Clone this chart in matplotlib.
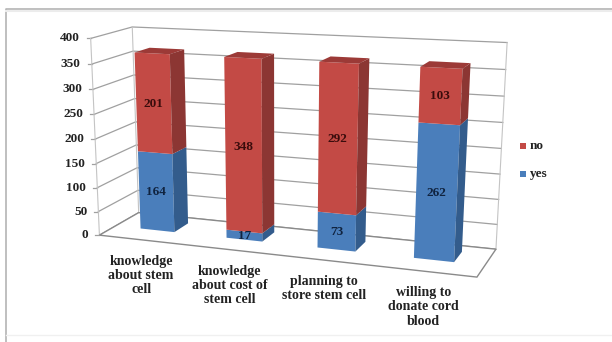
import numpy as np
import matplotlib
matplotlib.use('Agg')
from matplotlib import pyplot as plt
from matplotlib.patches import Polygon

categories = ["knowledge\nabout stem\ncell", "knowledge\nabout cost of\nstem cell",
              "planning to\nstore stem cell", "willing to\ndonate cord\nblood"]
yes_values = [164, 17, 73, 262]
no_values = [201, 348, 292, 103]
y_ticks = [0, 50, 100, 150, 200, 250, 300, 350, 400]

plt.rcParams['font.family'] = ['Liberation Serif', 'DejaVu Serif']
plt.rcParams['font.weight'] = 'bold'

# box corners (category, value, depth) and where they land on the figure
box = np.array([[0, 0, 0], [0, 400, 0], [0, 0, 1], [0, 400, 1],
                [4, 0, 0], [4, 0, 1], [4, 400, 1]], dtype=float)
screen = np.array([[100, 232], [90, 39], [138, 216], [133, 26],
                   [477, 280], [496, 246], [507, 43]], dtype=float)

# solve the camera matrix for the 3D box
rows = []
rhs = []
for (a, b, c), (sx, sy) in zip(box, screen):
    rows.append([a, b, c, 1, 0, 0, 0, 0, -sx*a, -sx*b, -sx*c])
    rhs.append(sx)
    rows.append([0, 0, 0, 0, a, b, c, 1, -sy*a, -sy*b, -sy*c])
    rhs.append(sy)
cam = np.linalg.lstsq(np.array(rows), np.array(rhs), rcond=None)[0]
cam = np.append(cam, 1).reshape(3, 4)


def proj(a, b, c):
    p = cam @ np.array([a, b, c, 1.0])
    return p[0]/p[2], p[1]/p[2]


fig = plt.figure(figsize=(6.12, 3.42), dpi=100)
ax = fig.add_axes([0, 0, 1, 1])
ax.set_xlim(0, 612)
ax.set_ylim(342, 0)
ax.axis('off')

# outer frame
ax.plot([612, 6, 6], [9, 9, 342], color='#b4b4b4', lw=1.2)
ax.plot([612, 6], [10.5, 10.5], color='#ececec', lw=1.5)
ax.plot([6, 612], [335, 335], color='#f0f0f0', lw=1)

# gridlines on the side wall and back wall
for v in y_ticks:
    pts = [proj(0, v, 0), proj(0, v, 1), proj(4, v, 1)]
    ax.plot([p[0] for p in pts], [p[1] for p in pts], color='#a0a0a0', lw=0.9, zorder=1)
    fx, fy = proj(0, v, 0)
    ax.plot([fx-4, fx], [fy, fy], color='#a0a0a0', lw=0.9, zorder=1)
    ax.text(fx-11, fy, str(v), ha='right', va='center', fontsize=9.5, color='#222222')

# wall edges and floor
for p, q in [((0, 0, 0), (0, 400, 0)), ((0, 0, 1), (0, 400, 1)), ((4, 0, 1), (4, 400, 1))]:
    a, b = proj(*p), proj(*q)
    ax.plot([a[0], b[0]], [a[1], b[1]], color='#c4c4c4', lw=0.8, zorder=1)
floor = [proj(0, 0, 0), proj(4, 0, 0), proj(4, 0, 1), proj(0, 0, 1)]
ax.add_patch(Polygon(floor, closed=True, fc='white', ec='#8a8a8a', lw=1, zorder=1))

bar_w = 0.40
d0, d1 = 0.40, 0.78


def draw_block(i, v0, v1, front, side, top):
    x0, x1 = i+0.5-bar_w/2, i+0.5+bar_w/2
    ax.add_patch(Polygon([proj(x0, v0, d0), proj(x1, v0, d0), proj(x1, v1, d0), proj(x0, v1, d0)],
                         fc=front, ec='none', zorder=3))
    ax.add_patch(Polygon([proj(x1, v0, d0), proj(x1, v0, d1), proj(x1, v1, d1), proj(x1, v1, d0)],
                         fc=side, ec='none', zorder=3))
    if top:
        ax.add_patch(Polygon([proj(x0, v1, d0), proj(x1, v1, d0), proj(x1, v1, d1), proj(x0, v1, d1)],
                             fc=top, ec='none', zorder=3))


for i, cat in enumerate(categories):
    y = yes_values[i]
    n = no_values[i]
    draw_block(i, 0, y, '#4a7ebb', '#335c8c', None)
    draw_block(i, y, y+n, '#c34a45', '#8c3633', '#9c3a37')
    # value labels centred on the front of each segment
    x = i+0.5
    px, py = proj(x, y/2, d0)
    ax.text(px, py, str(y), ha='center', va='center', fontsize=9.5, color='#10233f', zorder=5)
    px, py = proj(x, y+n/2, d0)
    ax.text(px, py, str(n), ha='center', va='center', fontsize=9.5, color='#3a0c0c', zorder=5)
    px, py = proj(x-0.01, 0, 0)
    ax.text(px, py+15, cat, ha='center', va='top', fontsize=10, color='#222222', linespacing=1.12)

# legend
ax.add_patch(Polygon([(520, 143), (526, 143), (526, 149), (520, 149)], fc='#c34a45', ec='none'))
ax.text(530, 146, 'no', va='center', fontsize=9.5, color='#222222')
ax.add_patch(Polygon([(520, 171), (526, 171), (526, 177), (520, 177)], fc='#4a7ebb', ec='none'))
ax.text(530, 174, 'yes', va='center', fontsize=9.5, color='#222222')

fig.savefig('out.png', dpi=100)
